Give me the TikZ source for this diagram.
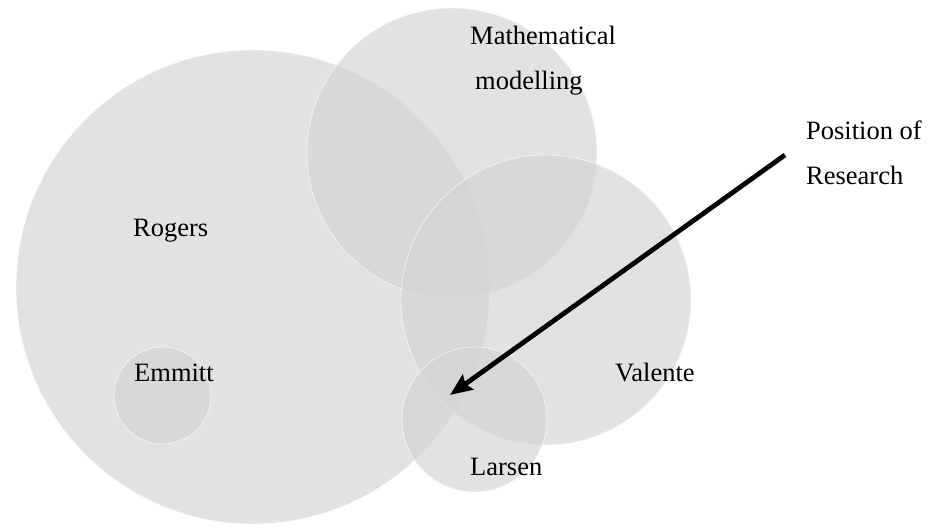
\documentclass[tikz,border=0pt]{standalone}
\usepackage{fontspec}
\setmainfont{Liberation Serif}
\usetikzlibrary{arrows.meta}
\tikzset{
  setcircle/.style={circle, inner sep=0pt, minimum size=#1, fill=black!17, fill opacity=0.67,
    draw=white, draw opacity=0.6, line width=0.8pt},
  lbl/.style={anchor=base west, inner sep=0pt, text=black,
    font=\fontsize{26.5}{45}\selectfont},
  pointer/.style={line width=4.8pt, -{Stealth[length=22pt,width=18pt,inset=3pt]}}
}
\begin{document}
\begin{tikzpicture}[x=1pt,y=1pt]
\useasboundingbox (0,0) rectangle (930,529);
\fill[white] (0,0) rectangle (930,529);
\node[setcircle=474pt] (rogers) at (253,242) {};
\node[setcircle=290pt] (math) at (452,376) {};
\node[setcircle=290pt] (valente) at (546,229) {};
\node[setcircle=145pt] (larsen) at (474.5,109.5) {};
\node[setcircle=97pt] (emmitt) at (162.5,133.5) {};
\node[lbl] (tmath1) at (470,484) {Mathematical};
\node[lbl] (tmath2) at (475,439) {modelling};
\node[lbl] (trogers) at (133,292) {Rogers};
\node[lbl] (temmitt) at (134,147) {Emmitt};
\node[lbl] (tvalente) at (615,147) {Valente};
\node[lbl] (tlarsen) at (470,53) {Larsen};
\node[lbl] (tpos1) at (806,389) {Position of};
\node[lbl] (tpos2) at (806,344) {Research};
\coordinate (astart) at (785,374);
\coordinate (atip) at (450,134);
\draw[pointer] (astart) -- (atip);
\end{tikzpicture}
\end{document}
